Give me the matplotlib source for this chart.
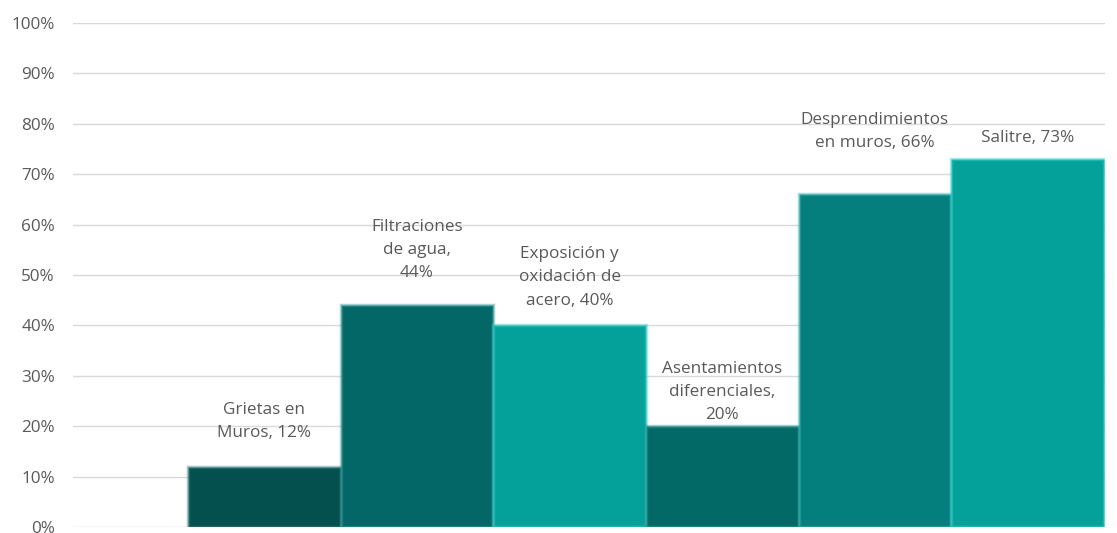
import matplotlib.pyplot as plt
import matplotlib.colors as mcolors
import numpy as np

# datos
categorias = ["Grietas en\nMuros", "Filtraciones\nde agua", "Exposición y\noxidación de\nacero",
              "Asentamientos\ndiferenciales", "Desprendimientos\nen muros", "Salitre"]
valores = [12, 44, 40, 20, 66, 73]
etiquetas = ["Grietas en\nMuros, 12%", "Filtraciones\nde agua,\n44%", "Exposición y\noxidación de\nacero, 40%",
             "Asentamientos\ndiferenciales,\n20%", "Desprendimientos\nen muros, 66%", "Salitre, 73%"]
colores = ["#03504f", "#036767", "#04a09a", "#036967", "#047f7e", "#04a09a"]
# separacion (px) entre la parte alta de la barra y el centro del bloque de texto
desplaz = [45, 55, 48, 34, 63, 21]

plt.rcParams['font.family'] = ['Open Sans', 'DejaVu Sans']

fig = plt.figure(figsize=(11.17, 5.33), dpi=100)
ax = fig.add_axes([73 / 1117, 1 - 527 / 533, (1105 - 73) / 1117, (527 - 23) / 533])

x = np.arange(len(valores))
for i, (v, c) in enumerate(zip(valores, colores)):
    claro = mcolors.to_rgb(c)
    claro = tuple(min(1, ch + 0.2) for ch in claro)
    ax.bar(x[i], v, width=1.0, color=c, edgecolor=claro + (0.45,), linewidth=2.5, zorder=3)
    ax.annotate(etiquetas[i], (x[i], v), xytext=(0, desplaz[i]), textcoords='offset pixels',
                ha='center', va='center', fontsize=12.3, color='#595959', linespacing=1.6)

ax.set_ylim(0, 100)
ax.set_xlim(-1.253, 5.507)
ax.set_yticks(np.arange(0, 101, 10))
ax.set_yticklabels([f"{t}%" for t in range(0, 101, 10)], fontsize=12.3, color='#595959')
ax.set_xticks([])
ax.grid(axis='y', color='#d9d9d9', linewidth=1, zorder=0)
for s in ax.spines.values():
    s.set_visible(False)
ax.tick_params(axis='y', length=0, pad=13)

fig.savefig("out.png", dpi=100)
